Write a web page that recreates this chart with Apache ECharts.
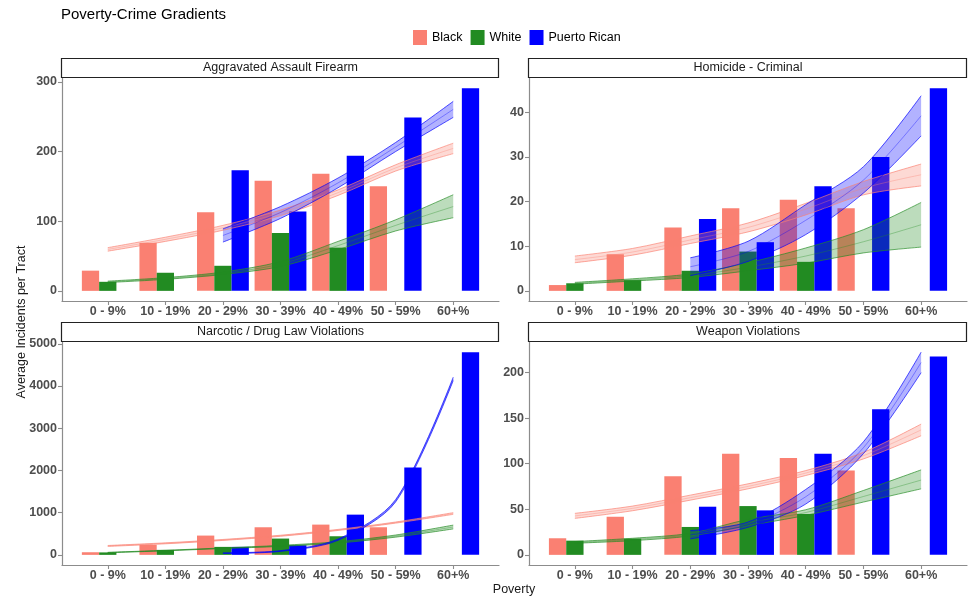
<!DOCTYPE html>
<html><head><meta charset="utf-8">
<script src="https://cdn.jsdelivr.net/npm/echarts@6/dist/echarts.min.js"></script>
<style>html,body{margin:0;padding:0;background:#fff}#c{width:969px;height:596px}</style>
</head><body><div id="c"></div>
<script>
// ---------- data ----------
const categories = ['0 - 9%', '10 - 19%', '20 - 29%', '30 - 39%', '40 - 49%', '50 - 59%', '60+%'];
const groups = ['Black', 'White', 'Puerto Rican'];
const panelTitles = ['Aggravated Assault Firearm', 'Homicide - Criminal', 'Narcotic / Drug Law Violations', 'Weapon Violations'];

// Aggravated Assault Firearm
const assaultTicks = [0, 100, 200, 300];
const assaultBlack = [29, 69, 113, 158, 168, 150, null];
const assaultWhite = [13, 26, 36, 83, 62, null, null];
const assaultPR = [null, null, 173, 114, 194, 249, 291];
const assaultBlackLo = [57, 71, 87, 108, 137, 172, 197];
const assaultBlackHi = [62, 77, 94, 116, 145, 181, 212];
const assaultBlackFit = [59.5, 74, 90.5, 112, 141, 176.5, 204.5];
const assaultWhiteLo = [12, 16.5, 23.5, 35, 59, 86, 105];
const assaultWhiteHi = [14, 19, 27, 42, 71, 102, 138];
const assaultWhiteFit = [13, 17.7, 25, 38.5, 65, 94, 121];
const assaultPRLo = [null, null, 70, 104, 148, 200, 249];
const assaultPRHi = [null, null, 89, 121, 162, 213, 272];
const assaultPRFit = [null, null, 79.5, 112.5, 155, 206.5, 260.5];

// Homicide - Criminal
const homicideTicks = [0, 10, 20, 30, 40];
const homicideBlack = [1.3, 8.2, 14.2, 18.5, 20.4, 18.5, null];
const homicideWhite = [1.7, 2.4, 4.5, 8.8, 6.5, null, null];
const homicidePR = [null, null, 16.1, 10.9, 23.4, 30.0, 45.4];
const homicideBlackLo = [6.3, 8.0, 10.6, 13.2, 17.0, 21.5, 23.5];
const homicideBlackHi = [7.8, 9.5, 12.3, 15.2, 19.6, 24.5, 28.4];
const homicideBlackFit = [7.0, 8.7, 11.4, 14.2, 18.3, 23.0, 26.0];
const homicideWhiteLo = [1.5, 2.2, 3.0, 4.5, 6.2, 8.5, 9.8];
const homicideWhiteHi = [1.9, 2.7, 3.8, 6.3, 9.6, 13.7, 19.8];
const homicideWhiteFit = [1.7, 2.45, 3.4, 5.3, 7.8, 11.0, 14.8];
const homicidePRLo = [null, null, 3.4, 6.6, 12.6, 21.9, 34.7];
const homicidePRHi = [null, null, 7.4, 11.1, 19.3, 27.8, 43.7];
const homicidePRFit = [null, null, 5.4, 8.8, 15.8, 24.8, 39.2];

// Narcotic / Drug Law Violations
const narcoticTicks = [0, 1000, 2000, 3000, 4000, 5000];
const narcoticBlack = [62, 236, 457, 654, 717, 654, null];
const narcoticWhite = [58, 118, 189, 386, 441, null, null];
const narcoticPR = [null, null, 189, 228, 953, 2071, 4803];
const narcoticBlackLo = [200, 262, 342, 440, 578, 752, 960];
const narcoticBlackHi = [222, 285, 365, 465, 603, 778, 1000];
const narcoticBlackFit = [211, 273, 353, 452, 590, 765, 980];
const narcoticWhiteLo = [50, 96, 150, 200, 280, 420, 615];
const narcoticWhiteHi = [60, 108, 165, 225, 312, 470, 705];
const narcoticWhiteFit = [55, 102, 157, 212, 296, 445, 660];
const narcoticPRLo = [null, null, 32, 82, 345, 1255, 4130];
const narcoticPRHi = [null, null, 48, 100, 375, 1310, 4210];
const narcoticPRFit = [null, null, 40, 91, 360, 1283, 4170];

// Weapon Violations
const weaponTicks = [0, 50, 100, 150, 200];
const weaponBlack = [18.2, 41.8, 86.2, 111, 106.3, 92.4, null];
const weaponWhite = [15.6, 17.8, 30.6, 53.5, 44.8, null, null];
const weaponPR = [null, null, 52.8, 48.8, 111, 159.8, 217.6];
const weaponBlackLo = [40, 48.4, 60, 72.4, 87, 105.2, 130.6];
const weaponBlackHi = [45.5, 53.5, 65.5, 77.9, 92.4, 112.4, 143.4];
const weaponBlackFit = [42.7, 51, 62.7, 75.1, 89.7, 108.8, 137];
const weaponWhiteLo = [12.7, 15.6, 20.7, 32, 43.3, 57.9, 72.4];
const weaponWhiteHi = [14.6, 18.2, 23.7, 39, 49.5, 70.6, 93.2];
const weaponWhiteFit = [13.6, 16.9, 22.2, 35.5, 46.4, 64, 82];
const weaponPRLo = [null, null, 17.5, 30.2, 55.7, 111, 199.8];
const weaponPRHi = [null, null, 26.6, 36, 71.7, 124, 222.3];
const weaponPRFit = [null, null, 22, 33, 63.7, 117.5, 211];

// ---------- build ----------
const FONT = '"Liberation Sans", Arial, sans-serif';
const colors = { 'Black': '#FA8072', 'White': '#228B22', 'Puerto Rican': '#0000FF' };
const AX = '#8C8C8C';
const TXT = '#4D4D4D';

const panels = [
  { title: panelTitles[0], ticks: assaultTicks, bars: [assaultBlack, assaultWhite, assaultPR],
    lo: [assaultBlackLo, assaultWhiteLo, assaultPRLo], hi: [assaultBlackHi, assaultWhiteHi, assaultPRHi], fit: [assaultBlackFit, assaultWhiteFit, assaultPRFit] },
  { title: panelTitles[1], ticks: homicideTicks, bars: [homicideBlack, homicideWhite, homicidePR],
    lo: [homicideBlackLo, homicideWhiteLo, homicidePRLo], hi: [homicideBlackHi, homicideWhiteHi, homicidePRHi], fit: [homicideBlackFit, homicideWhiteFit, homicidePRFit] },
  { title: panelTitles[2], ticks: narcoticTicks, bars: [narcoticBlack, narcoticWhite, narcoticPR],
    lo: [narcoticBlackLo, narcoticWhiteLo, narcoticPRLo], hi: [narcoticBlackHi, narcoticWhiteHi, narcoticPRHi], fit: [narcoticBlackFit, narcoticWhiteFit, narcoticPRFit] },
  { title: panelTitles[3], ticks: weaponTicks, bars: [weaponBlack, weaponWhite, weaponPR],
    lo: [weaponBlackLo, weaponWhiteLo, weaponPRLo], hi: [weaponBlackHi, weaponWhiteHi, weaponPRHi], fit: [weaponBlackFit, weaponWhiteFit, weaponPRFit] }
];

const boxes = [
  { left: 62, top: 78, width: 437, height: 223 },
  { left: 529, top: 78, width: 438, height: 223 },
  { left: 62, top: 342, width: 437, height: 223 },
  { left: 529, top: 342, width: 438, height: 223 }
];

const grids = [], xAxes = [], yAxes = [], series = [], graphics = [];
const catPos = categories.map((c, k) => k + 1);

panels.forEach((p, i) => {
  const b = boxes[i];
  const vals = [].concat(...p.bars, ...p.hi).filter(v => v != null);
  const M = Math.max(...vals);
  const ymin = -0.05 * M, ymax = 1.05 * M;
  const lo = 1 - 0.45, hi = categories.length + 0.45, pad = 0.05 * (hi - lo);
  const xmin = lo - pad, xmax = hi + pad;
  const unit = b.width / (xmax - xmin);
  const o = 2 * i, n = 2 * i + 1;

  grids.push({ left: b.left, top: b.top, width: b.width, height: b.height, outerBoundsMode: 'none' });
  grids.push({ left: b.left + (0.5 - xmin) * unit, top: b.top, width: categories.length * unit, height: b.height, outerBoundsMode: 'none' });

  xAxes.push({
    type: 'value', gridIndex: o, min: xmin, max: xmax,
    axisLine: { show: true, onZero: false, lineStyle: { color: AX, width: 1.2 } },
    axisTick: { show: true, customValues: catPos, length: 4, lineStyle: { color: AX, width: 1.1 } },
    axisLabel: { customValues: catPos, formatter: v => categories[Math.round(v) - 1], margin: 4,
      color: TXT, fontWeight: 'bold', fontSize: 12.5, fontFamily: FONT },
    splitLine: { show: false }
  });
  xAxes.push({ type: 'category', gridIndex: n, data: categories, show: false, boundaryGap: true });

  yAxes.push({
    type: 'value', gridIndex: o, min: ymin, max: ymax,
    axisLine: { show: true, onZero: false, lineStyle: { color: AX, width: 1.2 } },
    axisTick: { show: true, customValues: p.ticks, length: 4, lineStyle: { color: AX, width: 1.1 } },
    axisLabel: { customValues: p.ticks, formatter: v => String(Math.round(v)), margin: 5,
      color: TXT, fontWeight: 'bold', fontSize: 12.5, fontFamily: FONT },
    splitLine: { show: false }
  });
  yAxes.push({ type: 'value', gridIndex: n, min: ymin, max: ymax, show: false });

  groups.forEach((g, k) => {
    series.push({
      type: 'bar', name: g, xAxisIndex: n, yAxisIndex: n, data: p.bars[k],
      itemStyle: { color: colors[g] }, barGap: '0%', barCategoryGap: '10%', z: 2, silent: true
    });
  });
  groups.forEach((g, k) => {
    const st = 'band' + i + '_' + k;
    const loArr = p.lo[k], hiArr = p.hi[k];
    const common = { type: 'line', xAxisIndex: n, yAxisIndex: n, smooth: 0.3, showSymbol: false, symbol: 'none', z: 3, silent: true };
    series.push(Object.assign({}, common, {
      name: g + ' lower', stack: st, data: loArr,
      lineStyle: { color: colors[g], width: 0.9, opacity: 0.75 }
    }));
    series.push(Object.assign({}, common, {
      name: g + ' upper', stack: st, data: hiArr.map((v, j) => v == null ? null : v - loArr[j]),
      lineStyle: { color: colors[g], width: 0.9, opacity: 0.75 },
      areaStyle: { color: colors[g], opacity: 0.3 }
    }));
    series.push(Object.assign({}, common, {
      name: g + ' fit', data: p.fit[k],
      lineStyle: { color: colors[g], width: 1, opacity: 0.35 }
    }));
  });

  graphics.push({
    type: 'rect', shape: { x: b.left - 0.5, y: b.top - 19.5, width: b.width, height: 19 },
    style: { fill: '#fff', stroke: '#222', lineWidth: 1.2 }, z: 10
  });
  graphics.push({
    type: 'text', x: b.left + b.width / 2, y: b.top - 10, z: 11,
    style: { text: p.title, align: 'center', verticalAlign: 'middle', fontSize: 12.5, fontFamily: FONT, fill: '#1A1A1A' }
  });
});

graphics.push({
  type: 'text', x: 22, y: 322, rotation: Math.PI / 2,
  style: { text: 'Average Incidents per Tract', align: 'center', verticalAlign: 'middle', fontSize: 12.5, fontFamily: FONT, fill: '#1A1A1A' }
});
graphics.push({
  type: 'text', x: 514, y: 590,
  style: { text: 'Poverty', align: 'center', verticalAlign: 'middle', fontSize: 12.5, fontFamily: FONT, fill: '#1A1A1A' }
});

const chart = echarts.init(document.getElementById('c'), null, { renderer: 'canvas' });
chart.setOption({
  animation: false,
  backgroundColor: '#fff',
  title: { text: 'Poverty-Crime Gradients', left: 61, top: 7, padding: 0,
    textStyle: { fontSize: 15, fontWeight: 'normal', color: '#000', fontFamily: FONT } },
  legend: {
    data: groups, left: 413, top: 30, padding: 0, icon: 'rect', itemWidth: 14, itemHeight: 15, itemGap: 8, selectedMode: false,
    textStyle: { fontSize: 12.5, color: '#000', fontFamily: FONT }
  },
  grid: grids, xAxis: xAxes, yAxis: yAxes, series: series, graphic: graphics
});
</script>
</body></html>
